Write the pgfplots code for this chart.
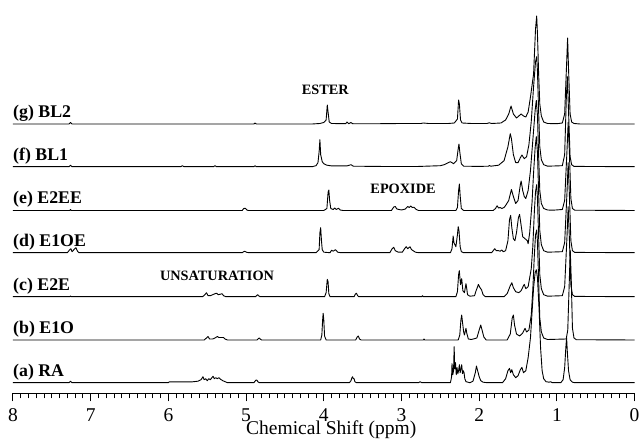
\documentclass[border=0pt]{standalone}
\usepackage{pgfplots}
\pgfplotsset{compat=1.18}
\usepackage{fontspec}
\setmainfont{Liberation Serif}
\begin{document}
\begin{tikzpicture}
\begin{axis}[
 scale only axis, width=621.6pt, height=393.3pt,
 xmin=0, xmax=8, x dir=reverse, ymin=-10.6, ymax=382.7,
 axis x line=bottom, axis y line=none,
 axis line style={line width=1.2pt, -},
 xtick={0,1,2,3,4,5,6,7,8}, minor x tick num=9,
 tick align=outside, major tick length=8pt, minor tick length=5pt,
 tick style={line width=1pt, black},
 /pgf/number format/assume math mode=true,
 x tick label style={anchor=base, inner sep=0pt, yshift=-19.9pt, font=\fontsize{19.5}{20}\selectfont},
 xlabel={Chemical Shift (ppm)},
 xlabel style={at={(axis description cs:0.512,0)}, anchor=base, inner sep=0pt, yshift=-41.4pt, font=\fontsize{19.5}{20}\selectfont},
 clip=false,
 every axis plot/.append style={black, line width=0.9pt, mark=none, line join=round},
]
% (g) BL2
\addplot[black, y filter/.expression={y+258.7}] coordinates {
(8,0) (7.28,0) (7.26,1.5) (7.24,0) (4.90,0) (4.885,1) (4.87,0) (4.15,0) (4.05,0.5) (4.0,1.5) (3.97,4) (3.955,19) (3.945,12) (3.93,2) (3.90,0.5) (3.72,0.3) (3.70,2) (3.68,0.3) (3.65,1.5) (3.63,0.3) (3.40,0.2) (3.0,0.5) (2.75,0.5) (2.72,1) (2.65,0.5) (2.40,0.5) (2.32,1) (2.28,5) (2.265,24) (2.255,20) (2.24,4) (2.22,1) (2.10,0.5) (1.90,0.5) (1.87,1.2) (1.84,0.5) (1.72,1) (1.66,4) (1.62,10) (1.59,18) (1.56,10) (1.52,6) (1.49,8) (1.46,10) (1.43,8) (1.40,7) (1.37,12) (1.34,27) (1.30,50) (1.275,95) (1.26,108) (1.25,90) (1.235,50) (1.22,20) (1.20,8) (1.17,2) (1.12,0.5) (1.0,0.3) (0.93,1) (0.90,10) (0.875,60) (0.862,86) (0.85,55) (0.83,10) (0.81,2) (0.78,0.5) (0.70,0) (0,0)
};
% (f) BL1
\addplot[black, y filter/.expression={y+216}] coordinates {
(8,0) (7.28,0) (7.26,1.5) (7.24,0) (5.84,0) (5.82,1) (5.80,0) (5.42,0) (5.40,1) (5.38,0) (4.90,0) (4.885,1) (4.87,0) (4.15,0) (4.10,1) (4.075,4) (4.06,15) (4.05,27) (4.04,12) (4.02,5) (4.0,3) (3.96,1.5) (3.90,0.8) (3.70,0.8) (3.65,2) (3.62,0.5) (3.2,0.2) (2.80,0.2) (2.5,1) (2.45,2) (2.40,4) (2.37,5) (2.33,3) (2.29,6) (2.27,18) (2.26,22.7) (2.25,15) (2.23,3) (2.20,0.5) (2.0,0.3) (1.88,0.5) (1.87,1.2) (1.85,0.5) (1.75,1.5) (1.68,6) (1.63,20) (1.60,33) (1.585,28) (1.56,12) (1.53,4) (1.50,4) (1.47,9) (1.45,11.7) (1.42,8) (1.39,10) (1.36,22) (1.33,45) (1.30,80) (1.275,105) (1.26,110) (1.25,95) (1.235,55) (1.22,20) (1.20,7) (1.17,2) (1.12,0.5) (0.93,1) (0.90,12) (0.878,70) (0.865,90) (0.85,55) (0.83,10) (0.81,2) (0.78,0.3) (0,0)
};
% (e) E2EE
\addplot[black, y filter/.expression={y+172.2}] coordinates {
(8,0) (7.27,0) (7.26,1) (7.25,0) (5.05,0) (5.03,2) (5.01,2.3) (4.99,0.5) (4.97,0) (4.0,0) (3.96,2) (3.945,18) (3.935,20.5) (3.925,10) (3.91,2) (3.88,1) (3.86,2.5) (3.84,1) (3.81,2.2) (3.79,0.5) (3.75,0) (3.13,0) (3.10,3.5) (3.08,4) (3.06,1.5) (3.00,0.5) (2.95,1.5) (2.92,4) (2.90,3) (2.88,4.5) (2.86,3) (2.84,3.3) (2.81,1) (2.78,0) (2.30,0) (2.28,3) (2.265,20) (2.255,26.5) (2.245,15) (2.23,2) (2.20,0) (1.82,0) (1.79,2) (1.77,4.7) (1.75,2.5) (1.73,3) (1.71,2) (1.68,3) (1.66,5) (1.62,10) (1.585,21) (1.56,14) (1.53,7) (1.50,10) (1.47,26) (1.46,29.5) (1.44,20) (1.42,14) (1.40,12) (1.37,20) (1.34,40) (1.31,70) (1.28,100) (1.265,110) (1.25,95) (1.235,55) (1.22,20) (1.20,7) (1.17,2) (1.12,0.5) (1.05,0.3) (0.93,1) (0.90,10) (0.87,60) (0.855,88) (0.84,60) (0.82,12) (0.80,2) (0.77,0.3) (0,0)
};
% (d) E1OE
\addplot[black, y filter/.expression={y+130}] coordinates {
(8,0) (7.30,0) (7.27,3) (7.255,4) (7.24,1) (7.21,3.5) (7.19,5) (7.17,1.5) (7.15,0) (5.05,0) (5.02,1.5) (4.99,0.3) (4.96,0) (4.10,0) (4.06,3) (4.05,20) (4.04,25) (4.03,12) (4.02,3) (4.0,0.5) (3.92,0) (3.90,2.5) (3.88,1.5) (3.85,3) (3.82,0.5) (3.78,0) (3.15,0) (3.12,4) (3.10,5.5) (3.08,2) (3.04,0.5) (2.99,0.5) (2.96,4) (2.94,6) (2.92,4) (2.89,6) (2.87,3) (2.85,2) (2.82,0.5) (2.78,0) (2.37,0) (2.35,4) (2.335,16.7) (2.325,10) (2.30,6) (2.28,18) (2.27,26) (2.26,22) (2.245,6) (2.23,1) (2.20,0) (1.84,0) (1.81,3) (1.80,4) (1.78,2) (1.75,2) (1.73,1.5) (1.71,2.7) (1.69,1) (1.66,2) (1.63,12) (1.61,33) (1.595,37.3) (1.58,25) (1.56,14) (1.54,12) (1.52,20) (1.495,35) (1.48,38.3) (1.465,30) (1.44,16) (1.41,14) (1.38,12) (1.37,9) (1.35,20) (1.32,50) (1.30,80) (1.28,105) (1.265,116) (1.25,100) (1.235,60) (1.22,22) (1.20,8) (1.17,2) (1.12,0.5) (0.93,1) (0.90,10) (0.87,60) (0.855,90) (0.84,60) (0.82,12) (0.80,2) (0.77,0.3) (0,0)
};
% (c) E2E
\addplot[black, y filter/.expression={y+86}] coordinates {
(8,0) (7.27,0) (7.26,0.7) (7.25,0) (5.56,0) (5.53,2) (5.51,4) (5.49,1) (5.46,1) (5.43,2) (5.40,3) (5.38,3.5) (5.36,2) (5.33,2.5) (5.31,3) (5.29,1) (5.26,0) (4.88,0) (4.86,1.5) (4.85,2) (4.84,1) (4.82,0) (3.99,0) (3.97,4) (3.955,17.4) (3.945,15) (3.935,3) (3.92,0) (3.61,0) (3.595,2.5) (3.58,3.5) (3.565,1) (3.55,0) (2.74,0) (2.73,1) (2.72,0) (2.30,0) (2.28,5) (2.265,22) (2.256,26) (2.24,12) (2.225,18) (2.21,6) (2.19,4) (2.17,13) (2.16,8) (2.15,2) (2.12,0.5) (2.06,1) (2.04,6) (2.02,10) (2.01,12.3) (1.99,9) (1.97,7) (1.95,2) (1.92,0) (1.68,0) (1.64,3) (1.60,11) (1.58,14) (1.56,9) (1.53,5) (1.49,4) (1.46,6) (1.43,11) (1.42,12.3) (1.40,8) (1.37,10) (1.33,28) (1.31,50) (1.29,85) (1.275,105) (1.26,112) (1.25,98) (1.235,60) (1.22,22) (1.20,8) (1.17,2) (1.12,0.5) (0.93,1) (0.90,10) (0.87,60) (0.855,90) (0.84,60) (0.82,12) (0.80,2) (0.77,0.3) (0,0)
};
% (b) E1O
\addplot[black, y filter/.expression={y+42.7}] coordinates {
(8,0) (5.54,0) (5.51,2) (5.49,3.5) (5.47,1) (5.43,1) (5.40,2) (5.37,3.5) (5.35,2.5) (5.32,2.5) (5.29,2.5) (5.27,1) (5.24,0) (4.86,0) (4.84,1.5) (4.83,2) (4.82,1) (4.80,0) (4.04,0) (4.025,5) (4.015,20) (4.008,26.7) (4.0,20) (3.99,4) (3.97,0) (3.59,0) (3.57,3) (3.556,4) (3.54,1) (3.52,0) (2.72,0) (2.71,1) (2.70,0) (2.27,0) (2.25,5) (2.235,20) (2.225,25) (2.215,18) (2.20,8) (2.19,5) (2.17,11.7) (2.16,7) (2.14,1) (2.10,0.5) (2.03,2) (2.00,10) (1.98,15) (1.96,9) (1.94,3) (1.91,0) (1.64,0) (1.60,6) (1.575,22) (1.56,25) (1.545,15) (1.52,6) (1.48,4) (1.44,7) (1.41,11.7) (1.39,8) (1.36,10) (1.33,25) (1.31,50) (1.29,85) (1.275,105) (1.26,110) (1.25,98) (1.235,60) (1.22,22) (1.20,8) (1.17,2) (1.12,0.5) (0.88,1) (0.86,10) (0.84,60) (0.828,90) (0.815,60) (0.80,12) (0.78,2) (0.75,0.3) (0,0)
};
% (a) RA
\addplot[black] coordinates {
(8,0) (7.28,0) (7.26,1.5) (7.24,0) (6.0,0) (5.99,0.8) (5.70,0.8) (5.62,1.5) (5.58,3) (5.555,6) (5.54,3) (5.52,4) (5.50,2) (5.48,4) (5.46,3) (5.44,5) (5.425,6.5) (5.41,4) (5.39,5) (5.37,4) (5.35,5) (5.33,3.5) (5.30,2) (5.27,1) (5.24,0) (4.90,0) (4.885,1.5) (4.875,2.5) (4.86,2.5) (4.85,1) (4.83,0) (3.67,0) (3.65,2) (3.64,4.5) (3.63,6) (3.62,4) (3.61,4) (3.60,1) (3.58,0) (2.78,0) (2.76,1) (2.74,0) (2.37,0) (2.355,6) (2.35,19) (2.34,8) (2.33,12) (2.322,36) (2.315,14) (2.305,20) (2.295,8) (2.285,15) (2.275,9) (2.265,12) (2.255,18) (2.245,10) (2.235,14) (2.225,18) (2.215,9) (2.205,12) (2.195,10) (2.185,4) (2.17,1) (2.12,0) (2.08,1.5) (2.05,10) (2.035,16.7) (2.02,12) (2.00,6) (1.98,2) (1.95,0.5) (1.90,0) (1.70,0) (1.66,4) (1.63,12) (1.61,14.3) (1.595,10) (1.58,13) (1.56,8) (1.53,5) (1.50,7) (1.47,13) (1.45,15.3) (1.43,10) (1.40,12) (1.37,25) (1.34,45) (1.32,70) (1.30,95) (1.28,110) (1.265,113) (1.25,105) (1.23,75) (1.21,35) (1.19,12) (1.17,4) (1.14,1) (1.10,0.5) (1.08,1) (1.06,0) (0.95,0) (0.92,3) (0.90,15) (0.885,35) (0.875,45) (0.865,30) (0.85,12) (0.83,3) (0.80,0.5) (0.77,0) (0,0)
};
\begin{scope}[every node/.style={anchor=base west, inner sep=0pt, font=\bfseries\fontsize{17.8}{18}\selectfont}]
\node at (axis cs:8,265.2) {(g) BL2};
\node at (axis cs:8,222.5) {(f) BL1};
\node at (axis cs:8,178.7) {(e) E2EE};
\node at (axis cs:8,136.5) {(d) E1OE};
\node at (axis cs:8,92.5) {(c) E2E};
\node at (axis cs:8,49.2) {(b) E1O};
\node at (axis cs:8,6.5) {(a) RA};
\end{scope}
\begin{scope}[every node/.style={anchor=base, inner sep=0pt, font=\bfseries\fontsize{14.3}{15}\selectfont}]
\node at (axis cs:3.98,287.7) {ESTER};
\node at (axis cs:2.98,189.4) {EPOXIDE};
\node at (axis cs:5.374,102) {UNSATURATION};
\end{scope}
\end{axis}
\pgfresetboundingbox
\path[use as bounding box] (-13pt,-45.7pt) rectangle (627pt,393.3pt);
\end{tikzpicture}
\end{document}
